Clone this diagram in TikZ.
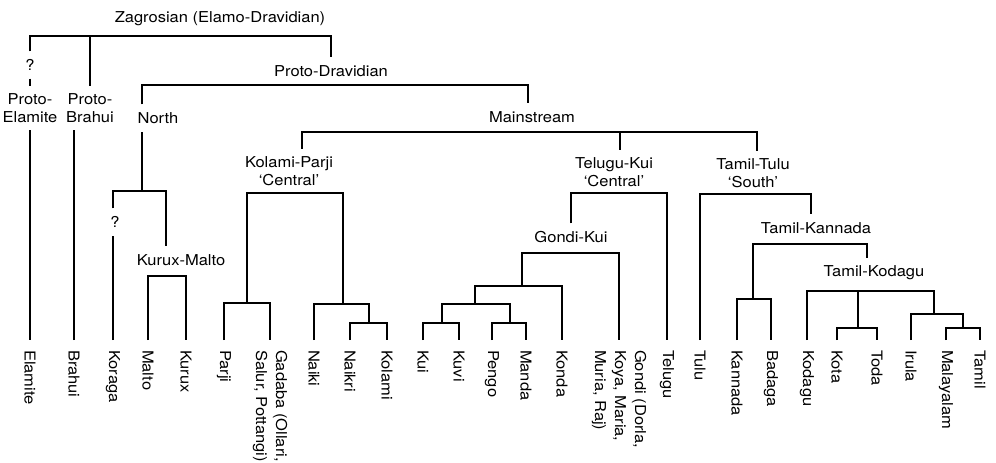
\documentclass[tikz,border=0pt]{standalone}
\usepackage{fontspec}
\setmainfont{TeX Gyre Heros}[FakeStretch=1.1]
\tikzset{
  lbl/.style={inner sep=0pt, outer xsep=0pt, outer ysep=8pt, align=center},
  leaf/.style={rotate=-90, anchor=west, inner sep=0pt, outer xsep=10pt, outer ysep=0pt, align=left,
    font=\fontsize{15pt}{20pt}\selectfont},
  branch/.style={line width=1.3pt}
}

\begin{document}
\begin{tikzpicture}[x=1pt, y=-1pt, font=\fontsize{15pt}{17.5pt}\selectfont]
\useasboundingbox (0,0) rectangle (996,463);

\node[lbl] (zag) at (220,19) {Zagrosian (Elamo-Dravidian)};
\node[lbl] (q1) at (30,65) {?};
\node[lbl] (pel) at (30,108) {Proto-\\Elamite};
\node[lbl] (pbr) at (90,108) {Proto-\\Brahui};
\node[lbl] (pdr) at (331,71) {Proto-Dravidian};
\node[lbl] (north) at (158,118) {North};
\node[lbl] (q2) at (115,222) {?};
\node[lbl] (km) at (181,260) {Kurux-Malto};
\node[lbl] (ms) at (532,117) {Mainstream};
\node[lbl] (kp) at (289,171) {Kolami-Parji\\‘Central’};
\node[lbl] (tk) at (614,172) {Telugu-Kui\\‘Central’};
\node[lbl] (tt) at (753,173) {Tamil-Tulu\\‘South’};
\node[lbl] (gk) at (571,237) {Gondi-Kui};
\node[lbl] (tkn) at (816,228) {Tamil-Kannada};
\node[lbl] (tkd) at (874,273) {Tamil-Kodagu};

\node[leaf] (elamite) at (30,340) {Elamite};
\node[leaf] (brahui) at (74,340) {Brahui};
\node[leaf] (koraga) at (113,340) {Koraga};
\node[leaf] (malto) at (148,340) {Malto};
\node[leaf] (kurux) at (186,340) {Kurux};
\node[leaf] (parji) at (224,340) {Parji};
\node[leaf] (gadaba) at (270,340) {Gadaba (Ollari,\\Salur, Pottangi)};
\node[leaf] (naiki) at (314,340) {Naiki};
\node[leaf] (naikri) at (350,340) {Naikri};
\node[leaf] (kolami) at (387,340) {Kolami};
\node[leaf] (kui) at (423,340) {Kui};
\node[leaf] (kuvi) at (459,340) {Kuvi};
\node[leaf] (pengo) at (492,340) {Pengo};
\node[leaf] (manda) at (526,340) {Manda};
\node[leaf] (konda) at (562,340) {Konda};
\node[leaf] (gondi) at (619,340) {Gondi (Dorla,\\Koya, Maria,\\Muria, Raj)};
\node[leaf] (telugu) at (667,340) {Telugu};
\node[leaf] (tulu) at (700,340) {Tulu};
\node[leaf] (kannada) at (737,340) {Kannada};
\node[leaf] (badaga) at (771,340) {Badaga};
\node[leaf] (kodagu) at (807,340) {Kodagu};
\node[leaf] (kota) at (837,340) {Kota};
\node[leaf] (toda) at (877,340) {Toda};
\node[leaf] (irula) at (911,340) {Irula};
\node[leaf] (malayalam) at (946,340) {Malayalam};
\node[leaf] (tamil) at (980,340) {Tamil};

\coordinate (zagbar) at (90,36);
\coordinate (pdrbar) at (142,85);
\coordinate (msdrop) at (528,85);
\coordinate (nbar) at (142,191);
\coordinate (kmdrop) at (166,191);
\coordinate (kmbar) at (166,276);
\coordinate (kpdrop) at (302,132);
\coordinate (tkdrop) at (620,132);
\coordinate (ttdrop) at (757,132);
\coordinate (kpbar) at (295,193);
\coordinate (pgbar) at (247,303);
\coordinate (nkbar) at (343,304);
\coordinate (nkk) at (369,323);
\coordinate (tkbar) at (620,193);
\coordinate (gkbar) at (571,253);
\coordinate (gk1) at (522,286);
\coordinate (gk2) at (475,304);
\coordinate (kk) at (442,323);
\coordinate (pm) at (510,323);
\coordinate (ttbar) at (757,194);
\coordinate (tkndrop) at (811,194);
\coordinate (kb) at (753,299);
\coordinate (tkddrop) at (867,244);
\coordinate (tkdbar) at (858,291);
\coordinate (kt) at (858,328);
\coordinate (im) at (934,314);
\coordinate (mt) at (963,328);

\begin{scope}[branch]
\draw (q1.north) |- (zagbar) -| (pdr.north);
\draw (zagbar) -- (pbr.north);
\draw (q1.south) -- (pel.north);
\draw (pel.south) -- (elamite.west);
\draw (brahui.west) -- (brahui.west |- pbr.south);

\draw (pdrbar |- north.north) -- (pdrbar) -- (msdrop) -- (msdrop |- ms.north);
\draw (nbar) -- (nbar |- north.south);
\draw (koraga.west |- q2.north) |- (nbar) -- (kmdrop) -- (kmdrop |- km.north);
\draw (koraga.west) -- (koraga.west |- q2.south);
\draw (malto.west) |- (kmbar) -| (kurux.west);

\draw (kpdrop |- kp.north) -- (kpdrop) -- (ttdrop) -- (ttdrop |- tt.north);
\draw (tkdrop) -- (tkdrop |- tk.north);

\draw (pgbar) |- (kpbar) -| (nkbar);
\draw (parji.west) |- (pgbar) -| (gadaba.west);
\draw (naiki.west) |- (nkbar) -| (nkk);
\draw (naikri.west) |- (nkk) -| (kolami.west);

\draw (gk.north) |- (tkbar) -| (telugu.west);
\draw (gk1) |- (gkbar) -| (gondi.west);
\draw (gk2) |- (gk1) -| (konda.west);
\draw (kk) |- (gk2) -| (pm);
\draw (kui.west) |- (kk) -| (kuvi.west);
\draw (pengo.west) |- (pm) -| (manda.west);

\draw (tulu.west) |- (ttbar) -- (tkndrop) -- (tkndrop |- tkn.north);
\draw (kb) |- (tkddrop) -- (tkddrop |- tkd.north);
\draw (kannada.west) |- (kb) -| (badaga.west);
\draw (kodagu.west) |- (tkdbar) -| (im);
\draw (tkdbar) -- (kt);
\draw (kota.west) |- (kt) -| (toda.west);
\draw (irula.west) |- (im) -| (mt);
\draw (malayalam.west) |- (mt) -| (tamil.west);
\end{scope}
\end{tikzpicture}
\end{document}
